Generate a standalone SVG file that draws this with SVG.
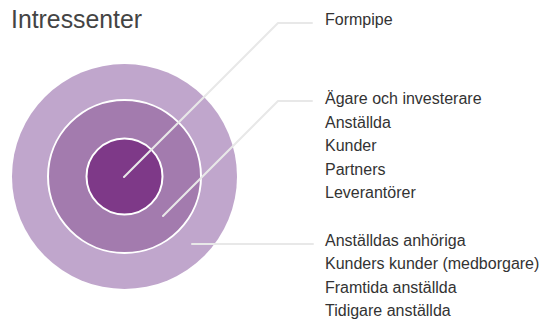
<svg xmlns="http://www.w3.org/2000/svg" width="547" height="323" viewBox="0 0 547 323">
<style>
.lbl{font-family:"Liberation Sans",Arial,sans-serif;font-size:16px;fill:#333333}
.title{font-family:"Liberation Sans",Arial,sans-serif;font-size:26px;fill:#444444}
.conn{fill:none;stroke:#e8e8e8;stroke-width:2;stroke-linecap:round;stroke-linejoin:round}
.ring{stroke:#ffffff;stroke-width:2}
</style>
<rect width="547" height="323" fill="#ffffff"/>
<text class="title" x="11" y="28" textLength="131" lengthAdjust="spacingAndGlyphs">Intressenter</text>
<g id="outer"><circle cx="124.5" cy="176.5" r="112.5" fill="#c0a6cc"/></g>
<g id="middle"><circle class="ring" cx="124.5" cy="176.5" r="76.5" fill="#a37bae"/></g>
<g id="inner"><circle class="ring" cx="124.5" cy="176.5" r="38" fill="#7e3988"/></g>
<g id="connectors">
<polyline class="conn" points="124,177 278,23 312,23"/>
<polyline class="conn" points="163,216 278,101 312,101"/>
<polyline class="conn" points="192,244 313,244"/>
</g>
<g id="label-core">
<text class="lbl" x="325" y="25">Formpipe</text>
</g>
<g id="label-middle">
<text class="lbl" x="325" y="104">Ägare och investerare</text>
<text class="lbl" x="325" y="127.5">Anställda</text>
<text class="lbl" x="325" y="151">Kunder</text>
<text class="lbl" x="325" y="174.5">Partners</text>
<text class="lbl" x="325" y="198">Leverantörer</text>
</g>
<g id="label-outer">
<text class="lbl" x="325" y="245.5">Anställdas anhöriga</text>
<text class="lbl" x="325" y="269">Kunders kunder (medborgare)</text>
<text class="lbl" x="325" y="292.5">Framtida anställda</text>
<text class="lbl" x="325" y="316">Tidigare anställda</text>
</g>
</svg>
